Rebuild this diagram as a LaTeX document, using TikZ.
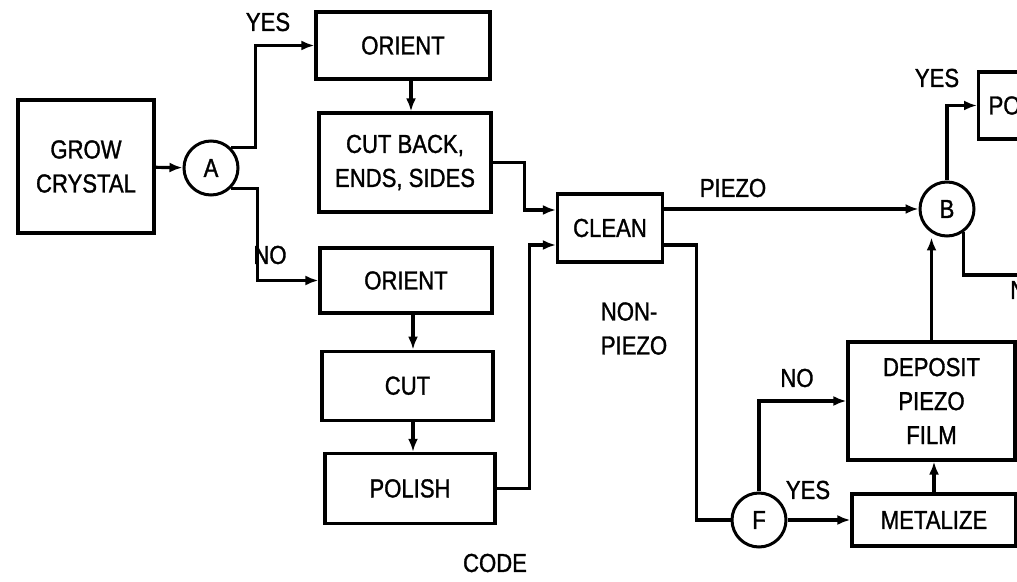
\documentclass[tikz,border=0pt]{standalone}
\usepackage{fontspec}
\setmainfont{Liberation Sans}[FakeStretch=0.85, FakeBold=1.2]
\usetikzlibrary{arrows.meta, positioning}
\tikzstyle{process} = [rectangle, draw=black, line width=3.2pt, inner sep=0pt, align=center, font=\fontsize{26}{34}\selectfont]
\tikzstyle{decision} = [circle, draw=black, line width=3pt, minimum size=54pt, inner sep=0pt, font=\fontsize{26}{34}\selectfont]
\tikzstyle{arrow} = [line width=3.2pt, -{Latex[length=13pt,width=10pt]}]
\tikzstyle{wire} = [line width=3.2pt]
\tikzstyle{tag} = [inner sep=0pt, align=left, font=\fontsize{26}{34}\selectfont]

\begin{document}
\begin{tikzpicture}[x=1pt, y=1pt]
            \useasboundingbox (0,0) rectangle (1017,581);
            \clip (0,0) rectangle (1017,581);

            % Crystal and first choice
            \node (grow) [process, minimum width=136pt, minimum height=133pt] at (86,414.5) {GROW\\CRYSTAL};
            \node (a) [decision] at (211,413) {A};

            % Upper branch
            \node (orient1) [process, minimum width=174pt, minimum height=67pt] at (403,535.5) {ORIENT};
            \node (cutback) [process, minimum width=172pt, minimum height=99pt] at (405,418.5) {CUT BACK,\\ENDS, SIDES};

            % Lower branch
            \node (orient2) [process, minimum width=172pt, minimum height=65pt] at (406,300.5) {ORIENT};
            \node (cut) [process, minimum width=171pt, minimum height=69pt, below=35pt of orient2, xshift=1.5pt] {CUT};
            \node (polish) [process, minimum width=170pt, minimum height=70pt, below=30pt of cut, xshift=2.5pt] {POLISH};

            \draw [arrow] (grow) -- (a);
            \draw [arrow] (a.45) -- ++(24,0) |- (orient1.west);
            \draw [arrow] (a.-45) -- ++(26,0) |- (orient2.west);
            \draw [arrow] ([xshift=8pt]orient1.south) -- ([xshift=6pt]cutback.north);
            \draw [arrow] ([xshift=7pt]orient2.south) -- ([xshift=5.5pt]cut.north);
            \draw [arrow] ([xshift=5.5pt]cut.south) -- ([xshift=3pt]polish.north);
            \node [tag] at (268,559) {YES};
            \node [tag] at (270,326) {NO};

            % Clean and piezo choice
            \node (clean) [process, minimum width=105pt, minimum height=68pt] at (610,353) {CLEAN};
            \draw [arrow] (cutback.east) -- ++(32,0) |- ([yshift=18pt]clean.west);
            \draw [arrow] (polish.east) -- ++(33,0) |- ([yshift=-17pt]clean.west);

            \node (b) [decision] at (947,372) {B};
            \node (pot) [process, anchor=west, minimum height=67pt, text width=110pt, inner xsep=10pt, align=left] at (977,475.5) {PO};
            \coordinate (bout) at (1030,306);
            \draw [arrow] ([yshift=19pt]clean.east) -- (b.west);
            \draw [arrow] (b.north) |- (pot.west);
            \draw [wire] (b.-55) |- (bout);
            \node [tag] at (733,393) {PIEZO};
            \node [tag] at (937,503) {YES};
            \node [tag, anchor=west] at (1010,291) {N};

            % Non-piezo path
            \node (f) [decision] at (759,61) {F};
            \node (deposit) [process, minimum width=167pt, minimum height=118pt] at (931.5,180) {DEPOSIT\\PIEZO\\FILM};
            \node (metalize) [process, minimum width=164pt, minimum height=52pt] at (934,61) {METALIZE};
            \draw [wire] ([yshift=-17pt]clean.east) -- ++(32,0) |- (f.west);
            \draw [arrow] (f.north) |- (deposit.west);
            \draw [arrow] (f.east) -- (metalize.west);
            \draw [arrow] (metalize.north) -- (metalize.north |- deposit.south);
            \draw [arrow] (deposit.north) -- (deposit.north |- b.south);
            \node [tag] at (634,252.5) {NON-\\PIEZO};
            \node [tag] at (797,203) {NO};
            \node [tag] at (808,91) {YES};

            \node [tag] at (495,18) {CODE};
        \end{tikzpicture}
\end{document}
